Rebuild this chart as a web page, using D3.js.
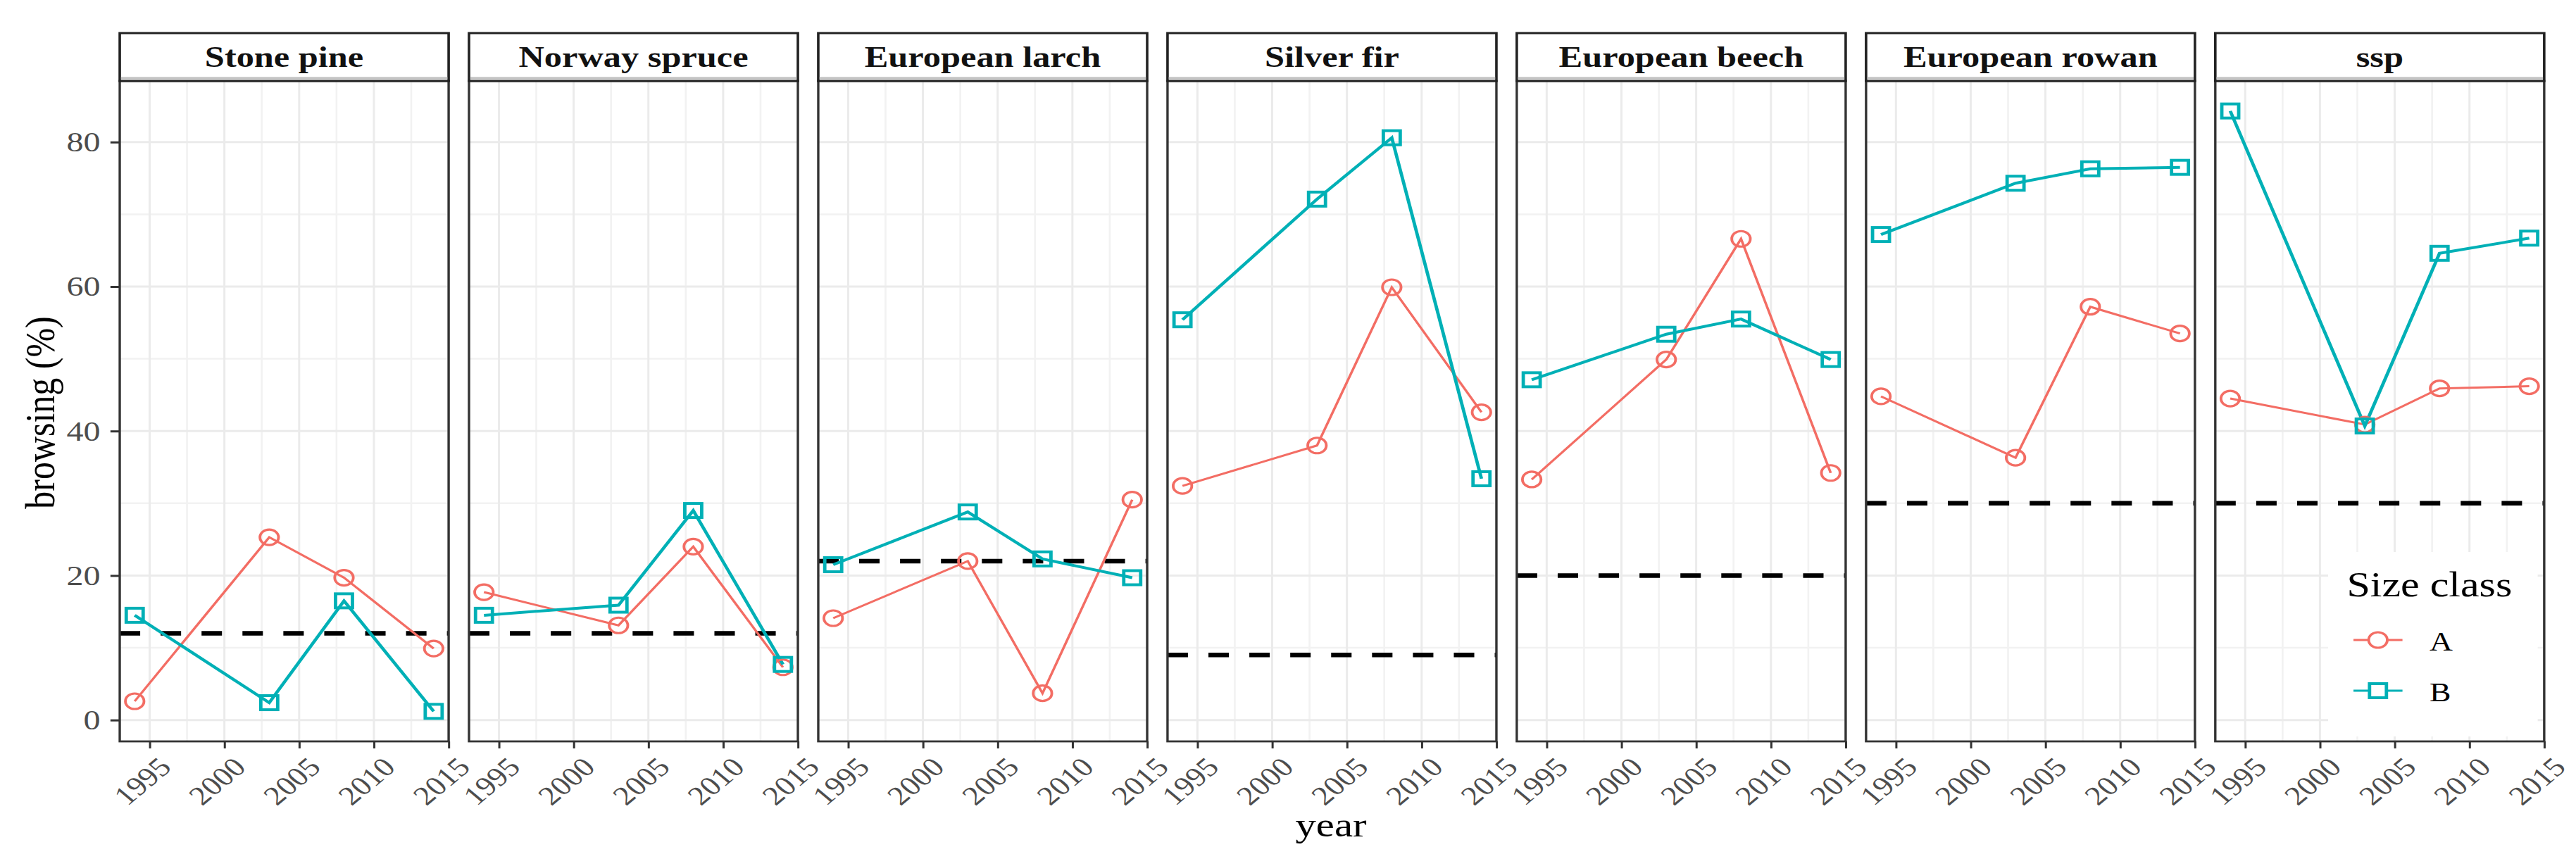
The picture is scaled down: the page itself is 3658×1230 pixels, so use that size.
<!DOCTYPE html>
<html>
<head>
<meta charset="utf-8">
<script src="https://cdn.jsdelivr.net/npm/d3@7"></script>
<style>
  body { margin: 0; background: #fff; }
  text { font-family: "Liberation Serif", "DejaVu Serif", serif; }
</style>
</head>
<body>
<svg width="3658" height="1230"></svg>
<script>

var species = ["Stone pine", "Norway spruce", "European larch", "Silver fir", "European beech", "European rowan", "ssp"];
var years = [1994, 2003, 2008, 2014];

// browsing (%) per species, size class A (rows follow species)
var classA = [
    [2.6, 25.3, 19.7, 9.9],
    [17.7, 13.1, 24.0, 7.3],
    [14.1, 22.0, 3.7, 30.5],
    [32.4, 38.0, 59.9, 42.6],
    [33.3, 49.9, 66.6, 34.2],
    [44.8, 36.3, 57.2, 53.5],
    [44.5, 40.9, 45.9, 46.2]
];

// size class B
var classB = [
    [14.5, 2.4, 16.5, 1.2],
    [14.5, 15.9, 29.0, 7.7],
    [21.5, 28.8, 22.3, 19.7],
    [55.4, 72.1, 80.6, 33.4],
    [47.1, 53.4, 55.5, 49.9],
    [67.2, 74.3, 76.3, 76.5],
    [84.3, 40.7, 64.6, 66.7]
];

// dashed reference line per species
var thresholds = [12, 12, 22, 9, 20, 30, 30];

var xTicks = [1995, 2000, 2005, 2010, 2015];
var xMinor = [1997.5, 2002.5, 2007.5, 2012.5];
var yTicks = [0, 20, 40, 60, 80];
var yMinor = [10, 30, 50, 70];
var sizeClasses = ["A", "B"];
var colors = ["#F36D64", "#00B0B6"];

// the original figure was stretched sideways, so draw narrow and widen it
var stretch = 1.2;

var svg = d3.select("svg");
var root = svg.append("g").attr("transform", "scale(" + stretch + ",1)");

var plotLeft = 141.7,
    plotTop = 115,
    plotBottom = 1053,
    stripH = 68,
    panelW = 389.2,
    gap = 24.1;

// ggplot style 5% expansion
var allVals = d3.merge(classA.concat(classB));
var yr = d3.extent(allVals), yPad = (yr[1] - yr[0]) * 0.05;
var xr = d3.extent(years), xPad = (xr[1] - xr[0]) * 0.05;

var y = d3.scaleLinear().domain([yr[0] - yPad, yr[1] + yPad]).range([plotBottom, plotTop]);
var x = d3.scaleLinear().domain([xr[0] - xPad, xr[1] + xPad]).range([0, panelW]);

var line = d3.line()
    .x(function(d) { return x(d.year); })
    .y(function(d) { return y(d.value); });

species.forEach(function(name, i) {
    var px = plotLeft + i * (panelW + gap);
    var g = root.append("g").attr("transform", "translate(" + px + ",0)");

    // grid
    g.selectAll(".vminor").data(xMinor).enter().append("line")
        .attr("x1", x).attr("x2", x).attr("y1", plotTop).attr("y2", plotBottom)
        .attr("stroke", "#F2F2F2").attr("stroke-width", 2.2);
    g.selectAll(".hminor").data(yMinor).enter().append("line")
        .attr("x1", 0).attr("x2", panelW).attr("y1", y).attr("y2", y)
        .attr("stroke", "#F2F2F2").attr("stroke-width", 2.5);
    g.selectAll(".vmajor").data(xTicks).enter().append("line")
        .attr("x1", x).attr("x2", x).attr("y1", plotTop).attr("y2", plotBottom)
        .attr("stroke", "#EBEBEB").attr("stroke-width", 2.5);
    g.selectAll(".hmajor").data(yTicks).enter().append("line")
        .attr("x1", 0).attr("x2", panelW).attr("y1", y).attr("y2", y)
        .attr("stroke", "#EBEBEB").attr("stroke-width", 3);

    // legend box sits inside the last panel
    if (i === species.length - 1) {
        g.append("rect")
            .attr("x", 2755 - px).attr("y", 784)
            .attr("width", 248).attr("height", 262)
            .attr("fill", "#fff");
    }

    // threshold
    g.append("line")
        .attr("x1", 0).attr("x2", panelW)
        .attr("y1", y(thresholds[i])).attr("y2", y(thresholds[i]))
        .attr("stroke", "#000").attr("stroke-width", 6.5)
        .attr("stroke-dasharray", "24.2 24.2");

    var series = [classA[i], classB[i]].map(function(vals) {
        return vals.map(function(v, j) { return {year: years[j], value: v}; });
    });

    series.forEach(function(s, k) {
        g.append("path").datum(s)
            .attr("d", line)
            .attr("fill", "none")
            .attr("stroke", colors[k])
            .attr("stroke-width", k === 0 ? 3 : 4);
    });

    // points: A open circles, B open squares
    g.selectAll(".ptA").data(series[0]).enter().append("circle")
        .attr("cx", function(d) { return x(d.year); })
        .attr("cy", function(d) { return y(d.value); })
        .attr("r", 11)
        .attr("fill", "none").attr("stroke", colors[0]).attr("stroke-width", 3.2);
    g.selectAll(".ptB").data(series[1]).enter().append("rect")
        .attr("x", function(d) { return x(d.year) - 10; })
        .attr("y", function(d) { return y(d.value) - 10; })
        .attr("width", 20).attr("height", 20)
        .attr("fill", "none").attr("stroke", colors[1]).attr("stroke-width", 4);

    // panel border
    g.append("rect")
        .attr("x", 0).attr("y", plotTop).attr("width", panelW).attr("height", plotBottom - plotTop)
        .attr("fill", "none").attr("stroke", "#333").attr("stroke-width", 2.8);

    // strip
    g.append("rect")
        .attr("x", 0).attr("y", plotTop - stripH).attr("width", panelW).attr("height", stripH)
        .attr("fill", "#fff").attr("stroke", "#222").attr("stroke-width", 3);
    g.append("line")
        .attr("x1", 1.5).attr("x2", panelW - 1.5)
        .attr("y1", plotTop - 4).attr("y2", plotTop - 4)
        .attr("stroke", "#C4C4C4").attr("stroke-width", 3.5);
    g.append("text")
        .attr("x", panelW / 2).attr("y", plotTop - 20)
        .attr("text-anchor", "middle")
        .attr("font-size", 42).attr("font-weight", "bold")
        .attr("fill", "#111")
        .text(name);

    // x axis
    var xa = g.append("g").attr("transform", "translate(0," + plotBottom + ")")
        .call(d3.axisBottom(x).tickValues(xTicks).tickFormat(d3.format("d")).tickSize(10).tickSizeOuter(0));
    xa.select(".domain").remove();
    xa.selectAll(".tick line").attr("stroke", "#333").attr("stroke-width", 2.5);
    xa.selectAll(".tick text")
        .attr("font-size", 38)
        .attr("fill", "#4D4D4D")
        .attr("text-anchor", "end")
        .attr("y", 0).attr("dy", "0.7em")
        .attr("transform", "translate(8,20) rotate(-45)");

    if (i === 0) {
        var ya = g.append("g")
            .call(d3.axisLeft(y).tickValues(yTicks).tickSize(11).tickSizeOuter(0));
        ya.select(".domain").remove();
        ya.selectAll(".tick line").attr("stroke", "#333").attr("stroke-width", 3);
        ya.selectAll(".tick text")
            .attr("font-size", 40)
            .attr("fill", "#4D4D4D")
            .attr("x", -23);
    }
});

// axis titles
root.append("text")
    .attr("x", 1575).attr("y", 1188)
    .attr("text-anchor", "middle")
    .attr("font-size", 49)
    .text("year");

root.append("text")
    .attr("transform", "translate(64,586) rotate(-90)")
    .attr("text-anchor", "middle")
    .attr("font-size", 50)
    .text("browsing (%)");

// legend
var legend = root.append("g");
legend.append("text")
    .attr("x", 2777).attr("y", 847)
    .attr("font-size", 50)
    .text("Size class");

sizeClasses.forEach(function(c, k) {
    var ly = 909 + k * 72;
    legend.append("line")
        .attr("x1", 2785).attr("x2", 2843).attr("y1", ly).attr("y2", ly)
        .attr("stroke", colors[k]).attr("stroke-width", 3);
    if (k === 0) {
        legend.append("circle").attr("cx", 2814).attr("cy", ly).attr("r", 11)
            .attr("fill", "#fff").attr("stroke", colors[k]).attr("stroke-width", 3.2);
    } else {
        legend.append("rect").attr("x", 2804).attr("y", ly - 10).attr("width", 20).attr("height", 20)
            .attr("fill", "#fff").attr("stroke", colors[k]).attr("stroke-width", 4);
    }
    legend.append("text")
        .attr("x", 2875).attr("y", ly + 15)
        .attr("font-size", 38)
        .text(c);
});

</script>
</body>
</html>
